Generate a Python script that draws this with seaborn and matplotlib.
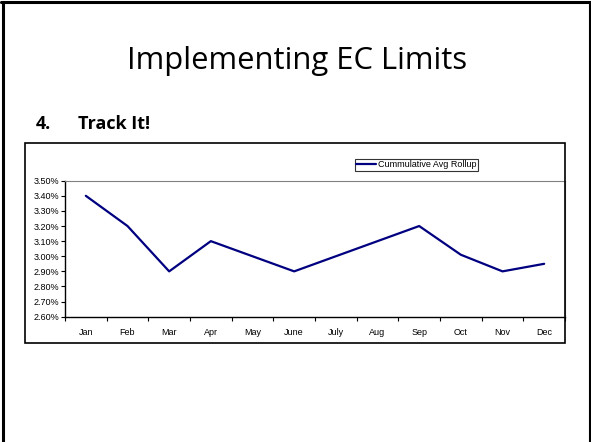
import matplotlib
matplotlib.use("Agg")
import matplotlib.pyplot as plt
import matplotlib.ticker as mticker
from matplotlib.patches import Rectangle
from matplotlib.lines import Line2D
import pandas as pd
import seaborn as sns

# Data
months = ["Jan", "Feb", "Mar", "Apr", "May", "June", "July", "Aug", "Sep", "Oct", "Nov", "Dec"]
rollup = [3.40, 3.20, 2.90, 3.10, 3.00, 2.90, 3.00, 3.10, 3.20, 3.01, 2.90, 2.95]
y_ticks = [2.60, 2.70, 2.80, 2.90, 3.00, 3.10, 3.20, 3.30, 3.40, 3.50]

title = "Implementing EC Limits"
series_name = "Cummulative Avg Rollup"

df = pd.DataFrame({"month": months, "pos": range(len(months)), "value": rollup})

sns.set_style("white")
plt.rcParams["font.family"] = ["Liberation Sans", "DejaVu Sans"]
plt.rcParams["text.color"] = "black"
plt.rcParams["xtick.color"] = "black"
plt.rcParams["ytick.color"] = "black"

W, H = 591, 442
fig = plt.figure(figsize=(W / 100, H / 100), dpi=100)

def fx(px):
    return px / W

def fy(py):
    return 1 - py / H

# slide frame
fig.add_artist(Line2D([fx(2.5), fx(2.5)], [fy(2), 0], color="black", lw=2.2, transform=fig.transFigure))
fig.add_artist(Line2D([fx(1), fx(590)], [fy(2), fy(2)], color="black", lw=2.2, transform=fig.transFigure))
fig.add_artist(Line2D([fx(589.5), fx(589.5)], [fy(2), 0], color="black", lw=1.5, transform=fig.transFigure))

# slide title and bullet
fig.text(fx(297), fy(69.5), title, ha="center", va="baseline", fontsize=22.3, family="Open Sans")
fig.text(fx(36), fy(128.5), "4.", ha="left", va="baseline", fontsize=13, family="Open Sans", fontweight="bold")
fig.text(fx(78), fy(128.5), "Track It!", ha="left", va="baseline", fontsize=13, family="Open Sans", fontweight="bold")

# chart box
fig.add_artist(Rectangle((fx(24.5), fy(343)), fx(564.5) - fx(24.5), fy(143) - fy(343),
                         transform=fig.transFigure, fill=False, edgecolor="black", lw=1.2))

ax = fig.add_axes([fx(65), fy(316.7), fx(565) - fx(65), fy(180.7) - fy(316.7)])
ax.set_facecolor("none")

sns.lineplot(data=df, x="pos", y="value", color="#000080", linewidth=1.6, ax=ax, label=series_name)

ax.set_xlim(-0.5, len(months) - 0.5)
ax.set_ylim(2.60, 3.50)
ax.set_yticks(y_ticks)
ax.yaxis.set_major_formatter(mticker.FuncFormatter(lambda v, p: f"{v:.2f}%"))
ax.set_xticks(range(len(months)))
ax.set_xticklabels(months)
ax.set_xticks([i - 0.5 for i in range(len(months) + 1)], minor=True)
ax.tick_params(axis="x", which="major", length=0, labelsize=6.5, pad=8)
ax.tick_params(axis="x", which="minor", length=3, width=0.8, color="black", direction="out", bottom=True)
ax.tick_params(axis="y", which="major", length=3, width=0.8, color="black", direction="out", left=True,
               labelsize=6.5, pad=1)
ax.set_xlabel("")
ax.set_ylabel("")

for side in ["left", "bottom"]:
    ax.spines[side].set_color("black")
    ax.spines[side].set_linewidth(1.0)
for side in ["top", "right"]:
    ax.spines[side].set_color("#808080")
    ax.spines[side].set_linewidth(0.8)

leg = ax.legend(loc="lower left", bbox_to_anchor=(fx(355), fy(170.5)), bbox_transform=fig.transFigure,
                fontsize=6.5, frameon=True, fancybox=False, borderpad=0.15, handlelength=2.2,
                handletextpad=0.2, borderaxespad=0)
leg.get_frame().set_edgecolor("black")
leg.get_frame().set_linewidth(0.8)

plt.savefig("out.png", dpi=100)
